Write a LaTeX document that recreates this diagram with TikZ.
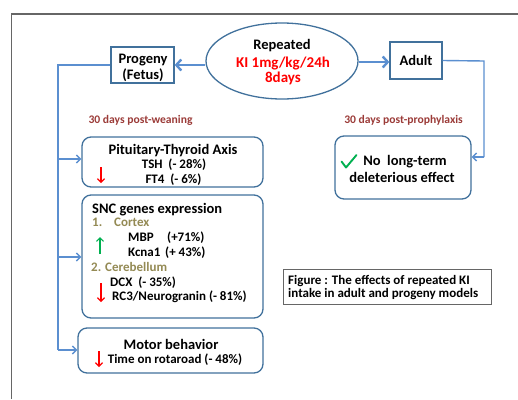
\documentclass[tikz,border=0pt]{standalone}
\usepackage{fontspec}
\setmainfont{Carlito}
\usetikzlibrary{arrows.meta,shapes.geometric}
\definecolor{boxblue}{HTML}{41719C}
\definecolor{linkblue}{HTML}{5B8FD0}
\definecolor{kired}{HTML}{FF0000}
\definecolor{darkred}{HTML}{9B3B38}
\definecolor{olive}{HTML}{948A54}
\definecolor{okgreen}{HTML}{00B050}
\definecolor{framegray}{HTML}{666666}
\newcommand{\titlef}{\fontsize{14.5}{16}\selectfont\bfseries}
\newcommand{\bodyf}{\fontsize{13}{15}\selectfont\bfseries}
\newcommand{\notef}{\fontsize{11.6}{13}\selectfont\bfseries}
\tikzset{
  sq/.style={draw=boxblue,line width=1.3pt,fill=white,rectangle,inner sep=0pt},
  rbox/.style={draw=boxblue,line width=1.3pt,fill=white,rectangle,rounded corners=9pt,inner sep=0pt},
  txt/.style={inner sep=0pt,anchor=base},
  txtw/.style={inner sep=0pt,anchor=base west},
  bigarrow/.style={draw=linkblue,line width=2.4pt,-{Straight Barb[length=5pt,width=11pt]}},
  link/.style={draw=linkblue,line width=1.4pt},
  linkarrow/.style={draw=linkblue,line width=1.4pt,-{Straight Barb[length=4pt,width=8pt]}},
  redarrow/.style={draw=kired,line width=1.2pt,-{Straight Barb[length=3.5pt,width=7pt]}},
  greenarrow/.style={draw=okgreen,line width=1.2pt,-{Straight Barb[length=3.5pt,width=7pt]}}
}
\begin{document}
\begin{tikzpicture}[x=1pt,y=-1pt]
\useasboundingbox (0,0) rectangle (518,399);
% outer frame
\draw[framegray,line width=1.6pt] (11.5,399) -- (11.5,14) -- (518,14);

% top row
\node[ellipse,draw=boxblue,line width=1.3pt,minimum width=152pt,minimum height=76pt,inner sep=0pt] (ell) at (282,61) {};
\node[txt] (rep) at (282,49) {\titlef Repeated};
\node[txt,text=kired] (dose) at (283,67.5) {\fontsize{15}{17}\selectfont\bfseries KI 1mg/kg/24h};
\node[txt,text=kired] (days) at (283,82.5) {\fontsize{15}{17}\selectfont\bfseries 8days};

\node[sq,minimum width=63pt,minimum height=36pt] (prog) at (142.5,65) {};
\node[txt] (progt) at (143,63) {\titlef Progeny};
\node[txt] (fetus) at (143,79) {\titlef (Fetus)};

\node[sq,minimum width=52pt,minimum height=37pt] (adult) at (416,60.5) {};
\node[txt] (adultt) at (416,65) {\titlef Adult};

\draw[bigarrow] (ell.west |- 0,65) coordinate (ellw) -- (prog.east |- ellw);
\draw[bigarrow] (ell.east |- 0,62) coordinate (elle) -- (adult.west |- elle);

% notes
\node[txt,text=darkred] (wean) at (140.5,123) {\notef 30 days post-weaning};
\node[txt,text=darkred] (proph) at (403.5,123) {\notef 30 days post-prophylaxis};

% left boxes
\node[rbox,minimum width=181pt,minimum height=50pt] (pit) at (172.5,162) {};
\node[txt] (pitt) at (173,154) {\titlef Pituitary-Thyroid Axis};
\node[txt] (tsh) at (174,168.5) {\bodyf TSH\ \ (- 28\%)};
\node[txt] (ft4) at (173.5,183.5) {\bodyf FT4\ \ (- 6\%)};
\draw[redarrow] (101,167) -- (101,183);

\node[rbox,minimum width=181pt,minimum height=123pt] (snc) at (172.5,256.5) {};
\node[txtw] (snct) at (92,213) {\titlef SNC genes expression};
\node[txtw,text=olive] (n1) at (92,226.5) {\bodyf 1.};
\node[txtw,text=olive] (cortex) at (114,226.5) {\bodyf Cortex};
\node[txtw] (mbp) at (128,241.5) {\bodyf MBP};
\node[txtw] (mbpv) at (167,241.5) {\bodyf (+71\%)};
\node[txtw] (kcna) at (128,256.5) {\bodyf Kcna1};
\node[txtw] (kcnav) at (165,256.5) {\bodyf (+ 43\%)};
\node[txtw,text=olive] (cereb) at (91,271.5) {\bodyf 2. Cerebellum};
\node[txtw] (dcx) at (110,286.5) {\bodyf DCX\ \ (- 35\%)};
\node[txtw] (rc3) at (112,300.5) {\bodyf RC3/Neurogranin (- 81\%)};
\draw[greenarrow] (100,254) -- (100,237);
\draw[redarrow] (101,283) -- (101,302);

\node[rbox,minimum width=185pt,minimum height=45pt] (motor) at (170.5,350.5) {};
\node[txt] (motort) at (171,349) {\titlef Motor behavior};
\node[txt] (rota) at (175,363.5) {\bodyf Time on rotaroad (- 48\%)};
\draw[redarrow] (99,351) -- (99,367);

% left connector
\draw[link] (prog.west) -- (58,65) coordinate (lc1) -- (58,350) coordinate (lc2);
\draw[linkarrow] (lc2) -- (motor.west |- lc2);
\draw[linkarrow] (58,159) coordinate (lc3) -- (pit.west |- lc3);
\draw[linkarrow] (58,257) coordinate (lc4) -- (snc.west |- lc4);

% right side
\node[rbox,minimum width=136pt,minimum height=63pt] (nolong) at (403,167.5) {};
\node[txt] (no1) at (405,165) {\titlef No\ \ long-term};
\node[txt] (no2) at (402,182) {\titlef deleterious effect};
\draw[okgreen,line width=1.9pt,line cap=round,line join=round] (341.5,161.5) -- (346,167.5) -- (356.5,155);

\draw[link] (adult.east) -- (484,61) coordinate (rc1) -- (484,157) coordinate (rc2);
\draw[linkarrow] (rc2) -- (nolong.east |- rc2);

% caption
\node[draw=framegray,line width=0.8pt,rectangle,minimum width=208pt,minimum height=35pt,inner sep=0pt] (cap) at (387,286.5) {};
\node[txtw] (cap1) at (288,284.5) {\bodyf Figure : The effects of repeated KI};
\node[txtw] (cap2) at (288,297.5) {\bodyf intake in adult and progeny models};
\end{tikzpicture}
\end{document}
